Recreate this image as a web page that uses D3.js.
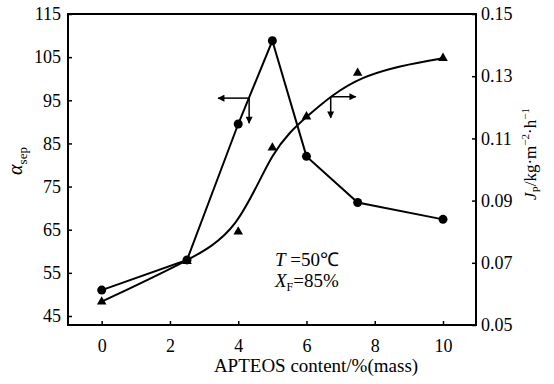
<!DOCTYPE html>
<html>
<head>
<meta charset="utf-8">
<script src="https://cdn.jsdelivr.net/npm/d3@7"></script>
<style>
  body { margin: 0; background: #fff; }
  svg text { font-family: "Liberation Serif", "Times New Roman", serif; fill: #000; }
</style>
</head>
<body>
<div id="chart"></div>
<script>
// APTEOS content, %(mass)
var content = [0, 2.5, 4, 5, 6, 7.5, 10];
// separation factor (left axis, circles)
var alphaSep = [51, 58, 89.5, 108.8, 82, 71.3, 67.4];
// permeation flux kg/(m2.h) (right axis, triangles)
var flux = [0.0575, 0.0705, 0.080, 0.107, 0.117, 0.131, 0.1358];

var xTicks = [0, 2, 4, 6, 8, 10];
var leftTicks = [45, 55, 65, 75, 85, 95, 105, 115];
var rightTicks = [0.05, 0.07, 0.09, 0.11, 0.13, 0.15];

var width = 554, height = 384;
var frame = { left: 68, right: 476, top: 14, bottom: 325 };

var svg = d3.select('#chart')
            .append('svg')
            .attr('width', width)
            .attr('height', height);

var xScale = d3.scaleLinear().domain([0, 10]).range([101.7, 443]);
var yLeft = d3.scaleLinear().domain([45, 115]).range([316, frame.top]);
var yRight = d3.scaleLinear().domain([0.05, 0.15]).range([frame.bottom, frame.top]);

// axes, ticks pointing inward
var xAxis = d3.axisTop(xScale).tickValues(xTicks).tickSize(4).tickFormat(d3.format('d'));
var leftAxis = d3.axisRight(yLeft).tickValues(leftTicks).tickSize(4).tickFormat(d3.format('d'));
var rightAxis = d3.axisLeft(yRight).tickValues(rightTicks).tickSize(4).tickFormat(d3.format('.2f'));

function styleAxis(g) {
  g.select('.domain').remove();
  g.selectAll('line').attr('stroke', '#000').attr('stroke-width', 1.5);
  g.selectAll('text').style('font-size', '18px').attr('fill', '#000');
}

svg.append('g')
   .attr('transform', 'translate(0,' + frame.bottom + ')')
   .call(xAxis)
   .call(styleAxis)
   .selectAll('text')
   .attr('y', 27);

svg.append('g')
   .attr('transform', 'translate(' + frame.left + ',0)')
   .call(leftAxis)
   .call(styleAxis)
   .selectAll('text')
   .attr('x', -7)
   .style('text-anchor', 'end');

svg.append('g')
   .attr('transform', 'translate(' + frame.right + ',0)')
   .call(rightAxis)
   .call(styleAxis)
   .selectAll('text')
   .attr('x', 5)
   .style('text-anchor', 'start');

// frame
svg.append('rect')
   .attr('x', frame.left)
   .attr('y', frame.top)
   .attr('width', frame.right - frame.left)
   .attr('height', frame.bottom - frame.top)
   .attr('fill', 'none')
   .attr('stroke', '#000')
   .attr('stroke-width', 2);

// alpha line (straight segments)
var alphaLine = d3.line()
  .x(function (d, i) { return xScale(content[i]); })
  .y(function (d) { return yLeft(d); });

svg.append('path')
   .datum(alphaSep)
   .attr('d', alphaLine)
   .attr('fill', 'none')
   .attr('stroke', '#000')
   .attr('stroke-width', 2);

// flux curve (smoothed)
var fluxLine = d3.line()
  .curve(d3.curveBasis)
  .x(function (d, i) { return xScale(content[i]); })
  .y(function (d) { return yRight(d); });

svg.append('path')
   .datum(flux)
   .attr('d', fluxLine)
   .attr('fill', 'none')
   .attr('stroke', '#000')
   .attr('stroke-width', 2);

svg.selectAll('circle.alpha')
   .data(alphaSep)
   .enter()
   .append('circle')
   .attr('class', 'alpha')
   .attr('cx', function (d, i) { return xScale(content[i]); })
   .attr('cy', function (d) { return yLeft(d); })
   .attr('r', 4.5)
   .attr('fill', '#000');

svg.selectAll('path.flux')
   .data(flux)
   .enter()
   .append('path')
   .attr('class', 'flux')
   .attr('d', d3.symbol().type(d3.symbolTriangle).size(40))
   .attr('transform', function (d, i) {
     return 'translate(' + xScale(content[i]) + ',' + yRight(d) + ')';
   })
   .attr('fill', '#000');

// arrow markers
svg.append('defs').append('marker')
   .attr('id', 'head')
   .attr('viewBox', '0 0 10 10')
   .attr('refX', 9).attr('refY', 5)
   .attr('markerWidth', 11).attr('markerHeight', 7)
   .attr('markerUnits', 'userSpaceOnUse')
   .attr('orient', 'auto')
   .append('path')
   .attr('d', 'M0,0 L10,5 L0,10 Z')
   .attr('fill', '#000');

function arrow(x1, y1, x2, y2) {
  svg.append('line')
     .attr('x1', x1).attr('y1', y1)
     .attr('x2', x2).attr('y2', y2)
     .attr('stroke', '#000')
     .attr('stroke-width', 1.5)
     .attr('marker-end', 'url(#head)');
}

// left arrow: circles belong to left axis
var ax = xScale(4.32), ay = yLeft(95.5);
arrow(ax, ay, ax - 31, ay);
arrow(ax, ay, ax, ay + 25);

// right arrow: triangles belong to right axis
var bx = xScale(6.71), by = yRight(0.1234);
arrow(bx, by, bx + 25, by);
arrow(bx, by, bx, by + 21);

// conditions
var t1 = svg.append('text').attr('x', 275).attr('y', 266).style('font-size', '19px');
t1.append('tspan').style('font-style', 'italic').text('T');
t1.append('tspan').text(' =50℃');

var t2 = svg.append('text').attr('x', 275).attr('y', 287).style('font-size', '19px');
t2.append('tspan').style('font-style', 'italic').text('X');
t2.append('tspan').attr('dy', 4).style('font-size', '12px').text('F');
t2.append('tspan').attr('dy', -4).text('=85%');

// axis titles
svg.append('text')
   .attr('x', 316)
   .attr('y', 372)
   .attr('text-anchor', 'middle')
   .style('font-size', '19px')
   .text('APTEOS content/%(mass)');

var lt = svg.append('text')
   .attr('transform', 'translate(22,161) rotate(-90)')
   .attr('text-anchor', 'middle')
   .style('font-size', '20px');
lt.append('tspan').style('font-style', 'italic').text('α');
lt.append('tspan').attr('dy', 5).style('font-size', '13px').text('sep');

var rt = svg.append('text')
   .attr('transform', 'translate(536,154) rotate(-90)')
   .attr('text-anchor', 'middle')
   .style('font-size', '17px');
rt.append('tspan').style('font-style', 'italic').text('J');
rt.append('tspan').attr('dy', 4).style('font-size', '11px').text('P');
rt.append('tspan').attr('dy', -4).text('/kg·m');
rt.append('tspan').attr('dy', -7).style('font-size', '11px').text('−2');
rt.append('tspan').attr('dy', 7).text('·h');
rt.append('tspan').attr('dy', -7).style('font-size', '11px').text('−1');
</script>
</body>
</html>
